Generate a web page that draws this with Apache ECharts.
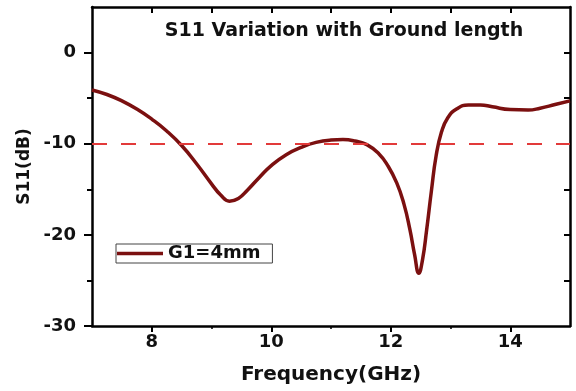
<!DOCTYPE html>
<html>
<head>
<meta charset="utf-8">
<script src="https://cdn.jsdelivr.net/npm/echarts@6/dist/echarts.min.js"></script>
<style>
  html, body { margin: 0; padding: 0; background: #fff; }
  #chart { width: 576px; height: 391px; }
</style>
</head>
<body>
<div id="chart"></div>
<script>
// frequency (GHz) / S11 (dB)
const freq = [7.0, 7.25, 7.5, 7.75, 8.0, 8.25, 8.5, 8.75, 9.0, 9.15, 9.3, 9.45, 9.6, 9.8, 10.0, 10.25, 10.5, 10.75, 11.0, 11.2, 11.4, 11.6, 11.8, 11.95, 12.1, 12.22, 12.32, 12.4, 12.47, 12.53, 12.6, 12.68, 12.76, 12.85, 12.95, 13.1, 13.3, 13.5, 13.7, 14.0, 14.3, 14.5, 14.75, 15.0];
const s11 = [-4.1, -4.6, -5.3, -6.2, -7.3, -8.6, -10.2, -12.2, -14.4, -15.6, -16.3, -16.0, -15.1, -13.7, -12.4, -11.2, -10.4, -9.85, -9.6, -9.55, -9.7, -10.1, -11.1, -12.4, -14.3, -16.6, -19.4, -22.2, -24.2, -22.8, -19.5, -15.2, -11.3, -8.7, -7.2, -6.2, -5.75, -5.75, -5.95, -6.25, -6.3, -6.1, -5.7, -5.3];
const threshold = -10;

const xTicks = [8, 10, 12, 14];
const xMinorTicks = [9, 11, 13];
const xTopTicks = [8, 9, 10, 11, 12, 13, 14];
const yTicks = [-30, -20, -10, 0];
const yMinorTicks = [-25, -15, -5];
const yRightTicks = [-25, -20, -15, -10, -5, 0];

const font = 'DejaVu Sans';
const ink = '#000';
const curveColor = '#7b1010';

const points = freq.map((f, i) => [f, s11[i]]);

const chart = echarts.init(document.getElementById('chart'));

const baseX = { type: 'value', min: 7, max: 15, splitLine: { show: false } };
const baseY = { type: 'value', min: -30, max: 5, splitLine: { show: false } };

const option = {
  backgroundColor: '#fff',
  animation: false,
  title: {
    text: 'S11 Variation with Ground length',
    left: 339,
    top: 17,
    textAlign: 'center',
    textStyle: { fontFamily: font, fontWeight: 'bold', fontSize: 19, color: '#111' }
  },
  legend: {
    left: 116,
    top: 244,
    padding: [0, 12, 0, 1],
    borderColor: '#444',
    borderWidth: 1,
    itemWidth: 46,
    itemHeight: 3.5,
    itemGap: 6,
    icon: 'rect',
    textStyle: { fontFamily: font, fontWeight: 'bold', fontSize: 18, color: '#111', lineHeight: 19 },
    data: ['G1=4mm']
  },
  grid: { left: 92, right: 6, top: 7, bottom: 65 },
  xAxis: [
    {
      ...baseX,
      position: 'bottom',
      name: 'Frequency(GHz)',
      nameLocation: 'middle',
      nameGap: 39,
      nameTextStyle: { fontFamily: font, fontWeight: 'bold', fontSize: 20, color: '#111' },
      axisLine: { onZero: false, lineStyle: { color: ink, width: 2.5 } },
      axisTick: { length: 6, lineStyle: { width: 2 }, customValues: xTicks },
      axisLabel: { customValues: xTicks, margin: 7, fontFamily: font, fontWeight: 'bold', fontSize: 18, color: '#111' }
    },
    {
      ...baseX,
      position: 'bottom',
      axisLine: { show: false, onZero: false },
      axisTick: { length: 3, lineStyle: { color: ink, width: 1.5 }, customValues: xMinorTicks },
      axisLabel: { show: false }
    },
    {
      ...baseX,
      position: 'top',
      axisLine: { onZero: false, lineStyle: { color: ink, width: 2.5 } },
      axisTick: { inside: true, length: 6, lineStyle: { width: 2 }, customValues: xTopTicks },
      axisLabel: { show: false }
    }
  ],
  yAxis: [
    {
      ...baseY,
      position: 'left',
      name: 'S11(dB)',
      nameLocation: 'middle',
      nameGap: 58,
      nameTextStyle: { fontFamily: font, fontWeight: 'bold', fontSize: 17, color: '#111' },
      axisLine: { onZero: false, lineStyle: { color: ink, width: 2.5 } },
      axisTick: { length: 8, lineStyle: { width: 2 }, customValues: yTicks },
      axisLabel: { customValues: yTicks, margin: 16, fontFamily: font, fontWeight: 'bold', fontSize: 18, color: '#111' }
    },
    {
      ...baseY,
      position: 'left',
      axisLine: { show: false, onZero: false },
      axisTick: { length: 5, lineStyle: { color: ink, width: 2 }, customValues: yMinorTicks },
      axisLabel: { show: false }
    },
    {
      ...baseY,
      position: 'right',
      axisLine: { onZero: false, lineStyle: { color: ink, width: 2.5 } },
      axisTick: { inside: true, length: 6, lineStyle: { width: 2 }, customValues: yRightTicks },
      axisLabel: { show: false }
    }
  ],
  series: [
    {
      name: 'G1=4mm',
      type: 'line',
      xAxisIndex: 0,
      yAxisIndex: 0,
      data: points,
      smooth: 0.5,
      showSymbol: false,
      itemStyle: { color: curveColor },
      lineStyle: { color: curveColor, width: 3.5 },
      markLine: {
        silent: true,
        symbol: 'none',
        label: { show: false },
        lineStyle: { color: '#e23a3a', width: 2, type: [15, 14] },
        data: [{ yAxis: threshold }]
      },
      z: 3
    }
  ]
};

chart.setOption(option);
</script>
</body>
</html>
